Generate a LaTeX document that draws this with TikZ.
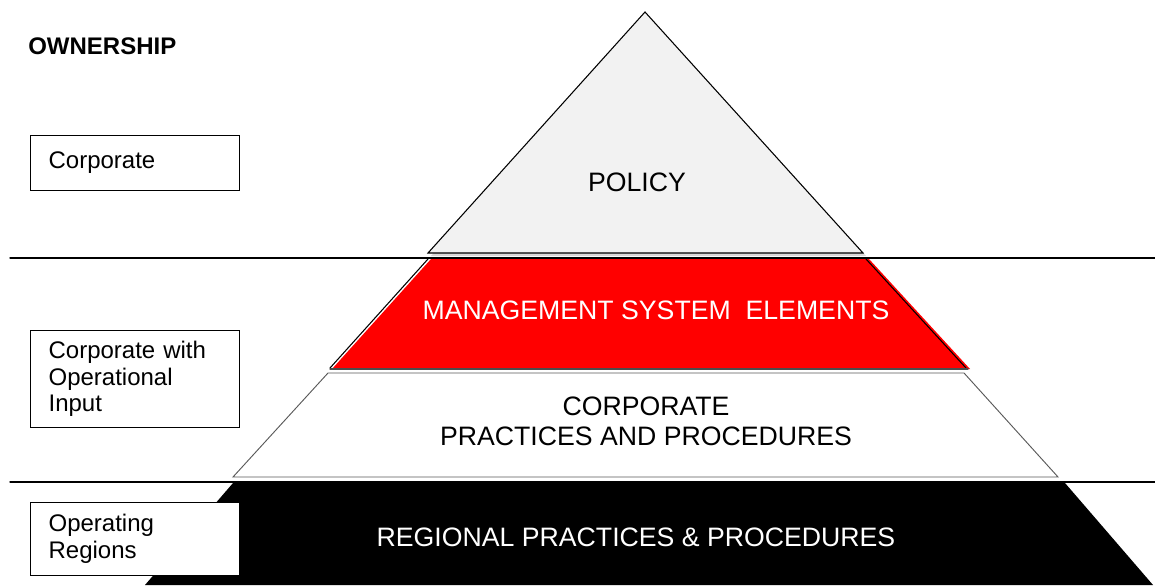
\documentclass[tikz,border=0pt]{standalone}
\usepackage{fontspec}
\setmainfont{Liberation Sans}
\usetikzlibrary{positioning}

\begin{document}
\begin{tikzpicture}[x=0.75pt,y=-0.75pt,line cap=round,
  layer/.style={font=\fontsize{20}{22.5}\selectfont,inner sep=0pt},
  ownerbox/.style={draw,line width=0.9pt,fill=white,anchor=north west,
    text width=129.75pt,inner xsep=13.5pt,inner ysep=0pt,align=left,
    minimum height=#1,font=\fontsize{18}{20}\selectfont}]
  \useasboundingbox (0,0) rectangle (1155,585);
  % pyramid
  \fill[gray!30] (648,15) -- (866,256) -- (431,256) -- cycle;
  \filldraw[fill=gray!10, draw=black, line width=0.8pt] (645,12) -- (863,253) -- (428,253) -- cycle;
  \fill[red] (431,259) -- (869,259) -- (970,369) -- (332,369) -- cycle;
  \draw[line width=0.8pt] (428,259) -- (330,368);
  \draw[line width=0.8pt] (866,259) -- (966,368);
  \draw[line width=0.8pt, gray!60!black] (330,369) -- (968,369);
  \draw[line width=0.7pt, gray!70!black] (328,373) -- (964,373) -- (1058,477) -- (233,477) -- cycle;
  \fill[black] (233,483) -- (1065,483) -- (1153,585) -- (145,585) -- cycle;
  % rules
  \draw[line width=1pt] (10,258) -- (1155,258);
  \draw[line width=1pt] (10,482) -- (1155,482);
  % layer labels
  \node[layer] (policy) at (637,182) {POLICY};
  \node[layer,text=white] (mse) at (656,310) {MANAGEMENT SYSTEM\ \ ELEMENTS};
  \node[layer,align=center] (corpproc) at (646,421) {CORPORATE\\PRACTICES AND PROCEDURES};
  \node[layer,text=white] (regional) at (636,537) {REGIONAL PRACTICES \& PROCEDURES};
  % ownership column
  \node[anchor=base west,inner sep=0pt,font=\bfseries\fontsize{18}{20}\selectfont] (ownership) at (28,55) {OWNERSHIP};
  \node[ownerbox=41.25pt] (corporate) at (30,135) {Corporate};
  \node[ownerbox=72.75pt] (corpinput) at (30,330) {Corporate with\\Operational\\Input};
  \node[ownerbox=54.75pt] (opregions) at (30,502) {Operating\\Regions};
\end{tikzpicture}
\end{document}
